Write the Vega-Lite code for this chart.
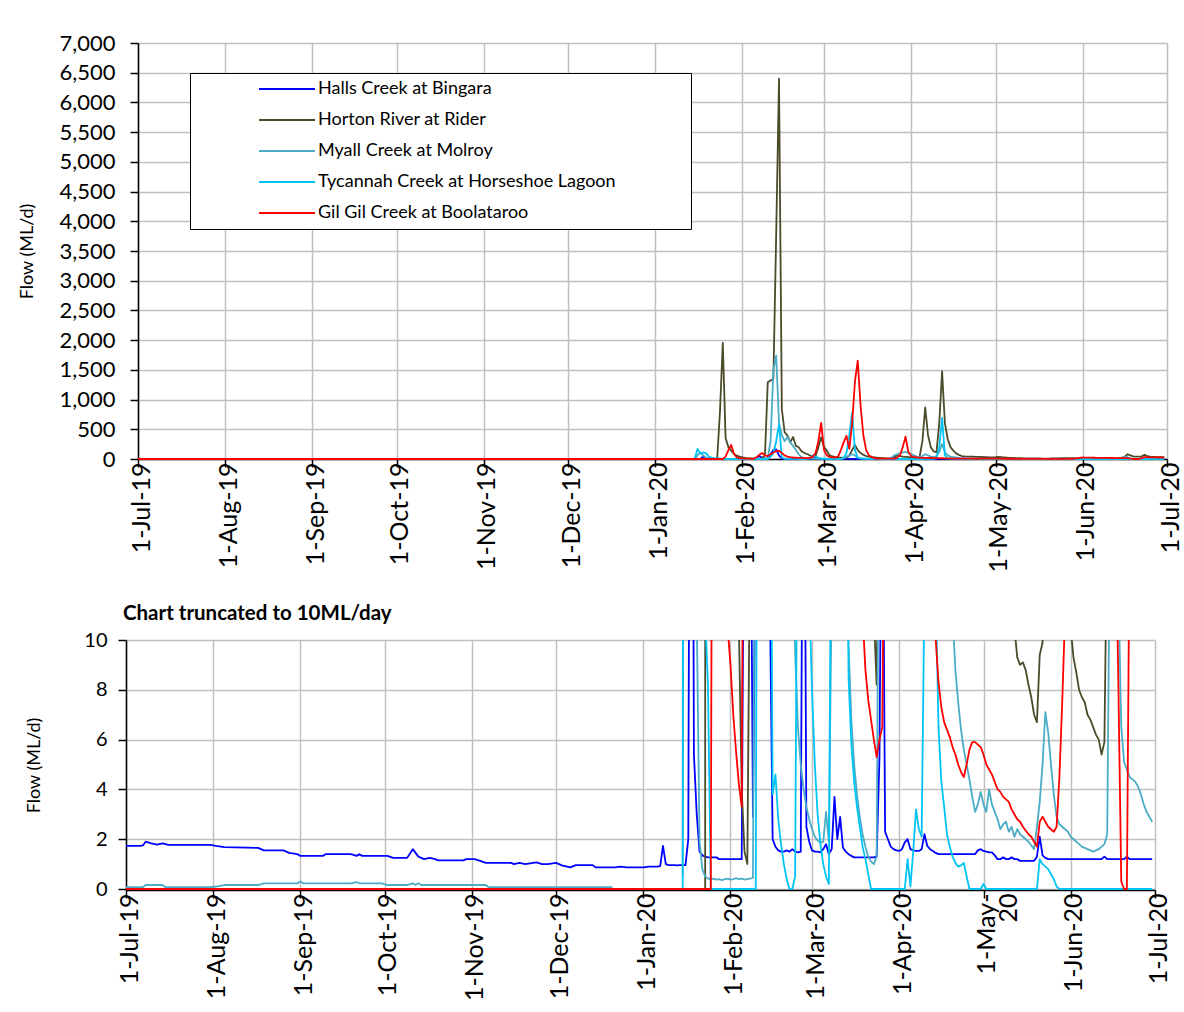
{
"$schema": "https://vega.github.io/schema/vega-lite/v6.json",
"background": "white",
"padding": {"left": 18, "top": 32, "right": 10, "bottom": 6},
"spacing": 31,
"columns": 1,
"resolve": {"legend": {"color": "independent"}},
"datasets": {"flows": [
{"d":"2019-07-01","H":1.73,"R":0,"M":0.07,"T":0,"G":0},
{"d":"2019-07-06","H":1.73,"R":0,"M":0.07,"T":0,"G":0},
{"d":"2019-07-07","H":1.75,"R":0,"M":0.07,"T":0,"G":0},
{"d":"2019-07-08","H":1.9,"R":0,"M":0.16,"T":0,"G":0},
{"d":"2019-07-10","H":1.83,"R":0,"M":0.16,"T":0,"G":0},
{"d":"2019-07-12","H":1.78,"R":0,"M":0.16,"T":0,"G":0},
{"d":"2019-07-14","H":1.83,"R":0,"M":0.16,"T":0,"G":0},
{"d":"2019-07-15","H":1.8,"R":0,"M":0.07,"T":0,"G":0},
{"d":"2019-07-16","H":1.77,"R":0,"M":0.07,"T":0,"G":0},
{"d":"2019-07-31","H":1.77,"R":0,"M":0.07,"T":0,"G":0},
{"d":"2019-08-02","H":1.73,"R":0,"M":0.1,"T":0,"G":0},
{"d":"2019-08-05","H":1.68,"R":0,"M":0.16,"T":0,"G":0},
{"d":"2019-08-13","H":1.66,"R":0,"M":0.16,"T":0,"G":0},
{"d":"2019-08-17","H":1.65,"R":0,"M":0.16,"T":0,"G":0},
{"d":"2019-08-19","H":1.55,"R":0,"M":0.23,"T":0,"G":0},
{"d":"2019-08-26","H":1.55,"R":0,"M":0.23,"T":0,"G":0},
{"d":"2019-08-28","H":1.45,"R":0,"M":0.23,"T":0,"G":0},
{"d":"2019-08-31","H":1.4,"R":0,"M":0.23,"T":0,"G":0},
{"d":"2019-09-01","H":1.33,"R":0,"M":0.3,"T":0,"G":0},
{"d":"2019-09-02","H":1.33,"R":0,"M":0.23,"T":0,"G":0},
{"d":"2019-09-09","H":1.33,"R":0,"M":0.23,"T":0,"G":0},
{"d":"2019-09-10","H":1.4,"R":0,"M":0.23,"T":0,"G":0},
{"d":"2019-09-19","H":1.4,"R":0,"M":0.23,"T":0,"G":0},
{"d":"2019-09-21","H":1.33,"R":0,"M":0.28,"T":0,"G":0},
{"d":"2019-09-22","H":1.4,"R":0,"M":0.23,"T":0,"G":0},
{"d":"2019-09-23","H":1.33,"R":0,"M":0.23,"T":0,"G":0},
{"d":"2019-09-30","H":1.33,"R":0,"M":0.23,"T":0,"G":0},
{"d":"2019-10-02","H":1.33,"R":0,"M":0.16,"T":0,"G":0},
{"d":"2019-10-04","H":1.25,"R":0,"M":0.16,"T":0,"G":0},
{"d":"2019-10-09","H":1.25,"R":0,"M":0.16,"T":0,"G":0},
{"d":"2019-10-11","H":1.6,"R":0,"M":0.23,"T":0,"G":0},
{"d":"2019-10-12","H":1.45,"R":0,"M":0.16,"T":0,"G":0},
{"d":"2019-10-13","H":1.3,"R":0,"M":0.23,"T":0,"G":0},
{"d":"2019-10-14","H":1.25,"R":0,"M":0.16,"T":0,"G":0},
{"d":"2019-10-15","H":1.2,"R":0,"M":0.16,"T":0,"G":0},
{"d":"2019-10-17","H":1.25,"R":0,"M":0.16,"T":0,"G":0},
{"d":"2019-10-19","H":1.2,"R":0,"M":0.16,"T":0,"G":0},
{"d":"2019-10-20","H":1.15,"R":0,"M":0.16,"T":0,"G":0},
{"d":"2019-10-29","H":1.15,"R":0,"M":0.16,"T":0,"G":0},
{"d":"2019-10-30","H":1.2,"R":0,"M":0.16,"T":0,"G":0},
{"d":"2019-11-02","H":1.2,"R":0,"M":0.16,"T":0,"G":0},
{"d":"2019-11-04","H":1.13,"R":0,"M":0.16,"T":0,"G":0},
{"d":"2019-11-06","H":1.05,"R":0,"M":0.16,"T":0,"G":0},
{"d":"2019-11-07","H":1.05,"R":0,"M":0.07,"T":0,"G":0},
{"d":"2019-11-15","H":1.05,"R":0,"M":0.07,"T":0,"G":0},
{"d":"2019-11-16","H":1.0,"R":0,"M":0.07,"T":0,"G":0},
{"d":"2019-11-18","H":1.05,"R":0,"M":0.07,"T":0,"G":0},
{"d":"2019-11-20","H":1.0,"R":0,"M":0.07,"T":0,"G":0},
{"d":"2019-11-24","H":1.07,"R":0,"M":0.07,"T":0,"G":0},
{"d":"2019-11-26","H":1.0,"R":0,"M":0.07,"T":0,"G":0},
{"d":"2019-11-28","H":1.0,"R":0,"M":0.07,"T":0,"G":0},
{"d":"2019-12-01","H":1.05,"R":0,"M":0.07,"T":0,"G":0},
{"d":"2019-12-03","H":0.95,"R":0,"M":0.07,"T":0,"G":0},
{"d":"2019-12-06","H":0.87,"R":0,"M":0.07,"T":0,"G":0},
{"d":"2019-12-08","H":0.96,"R":0,"M":0.07,"T":0,"G":0},
{"d":"2019-12-14","H":0.96,"R":0,"M":0.07,"T":0,"G":0},
{"d":"2019-12-15","H":0.87,"R":0,"M":0.07,"T":0,"G":0},
{"d":"2019-12-21","H":0.87,"R":0,"M":0.07,"T":0,"G":0},
{"d":"2019-12-22","H":0.87,"R":0,"M":null,"T":0,"G":0},
{"d":"2019-12-24","H":0.9,"R":0,"M":null,"T":0,"G":0},
{"d":"2019-12-26","H":0.87,"R":0,"M":null,"T":0,"G":0},
{"d":"2020-01-01","H":0.87,"R":0,"M":null,"T":0,"G":0},
{"d":"2020-01-03","H":0.9,"R":0,"M":null,"T":0,"G":0},
{"d":"2020-01-06","H":0.9,"R":0,"M":null,"T":0,"G":0},
{"d":"2020-01-07","H":0.92,"R":0,"M":null,"T":0,"G":0},
{"d":"2020-01-08","H":1.73,"R":0,"M":null,"T":0,"G":0},
{"d":"2020-01-09","H":1.0,"R":0,"M":null,"T":0,"G":0},
{"d":"2020-01-10","H":0.96,"R":0,"M":null,"T":0,"G":0},
{"d":"2020-01-11","H":0.96,"R":0,"M":null,"T":0,"G":0},
{"d":"2020-01-12","H":0.96,"R":0,"M":null,"T":0,"G":0},
{"d":"2020-01-13","H":0.95,"R":0,"M":null,"T":0,"G":0},
{"d":"2020-01-14","H":0.96,"R":0,"M":null,"T":0,"G":0},
{"d":"2020-01-15","H":0.96,"R":0,"M":0.5,"T":0,"G":0},
{"d":"2020-01-16","H":0.96,"R":0,"M":60,"T":170,"G":0},
{"d":"2020-01-17","H":2.0,"R":0,"M":110,"T":90,"G":0},
{"d":"2020-01-18","H":40,"R":0,"M":60,"T":110,"G":0},
{"d":"2020-01-19","H":5.4,"R":0,"M":25,"T":100,"G":0},
{"d":"2020-01-20","H":3.0,"R":0,"M":11,"T":40,"G":0},
{"d":"2020-01-21","H":1.5,"R":0,"M":1.9,"T":25,"G":0},
{"d":"2020-01-22","H":1.35,"R":0,"M":0.8,"T":15,"G":0},
{"d":"2020-01-23","H":1.3,"R":0,"M":0.5,"T":11,"G":0},
{"d":"2020-01-24","H":1.27,"R":800,"M":0.42,"T":8.2,"G":0},
{"d":"2020-01-25","H":1.27,"R":1955,"M":0.4,"T":0,"G":0},
{"d":"2020-01-26","H":1.27,"R":350,"M":0.42,"T":0,"G":40},
{"d":"2020-01-27","H":1.27,"R":200,"M":0.38,"T":0,"G":150},
{"d":"2020-01-28","H":1.2,"R":140,"M":0.4,"T":0,"G":236},
{"d":"2020-01-29","H":1.2,"R":84,"M":0.36,"T":0,"G":84},
{"d":"2020-01-30","H":1.2,"R":56,"M":0.4,"T":0,"G":28},
{"d":"2020-01-31","H":1.2,"R":40,"M":0.42,"T":0,"G":10.5},
{"d":"2020-02-01","H":1.2,"R":28,"M":0.38,"T":0,"G":9},
{"d":"2020-02-02","H":1.2,"R":20,"M":0.4,"T":0,"G":7},
{"d":"2020-02-03","H":1.2,"R":14,"M":0.44,"T":0,"G":5.5},
{"d":"2020-02-04","H":1.2,"R":10.5,"M":0.4,"T":0,"G":4.2},
{"d":"2020-02-05","H":1.2,"R":4,"M":0.42,"T":0,"G":3.3},
{"d":"2020-02-06","H":20,"R":1.5,"M":0.38,"T":0,"G":30},
{"d":"2020-02-07","H":50,"R":1.0,"M":0.4,"T":0,"G":70},
{"d":"2020-02-08","H":20,"R":15,"M":0.42,"T":0,"G":100},
{"d":"2020-02-09","H":2.9,"R":60,"M":0.45,"T":0,"G":60},
{"d":"2020-02-10","H":15,"R":1290,"M":25,"T":0,"G":50},
{"d":"2020-02-11","H":80,"R":1320,"M":300,"T":40,"G":80},
{"d":"2020-02-12","H":150,"R":1350,"M":1500,"T":100,"G":110},
{"d":"2020-02-13","H":160,"R":3800,"M":1740,"T":300,"G":130},
{"d":"2020-02-14","H":60,"R":6400,"M":600,"T":590,"G":140},
{"d":"2020-02-15","H":12,"R":840,"M":400,"T":25,"G":100},
{"d":"2020-02-16","H":2.0,"R":450,"M":300,"T":3.8,"G":60},
{"d":"2020-02-17","H":1.7,"R":393,"M":370,"T":4.6,"G":40},
{"d":"2020-02-18","H":1.55,"R":280,"M":280,"T":2.8,"G":30},
{"d":"2020-02-19","H":1.5,"R":370,"M":220,"T":1.8,"G":25},
{"d":"2020-02-20","H":1.5,"R":220,"M":150,"T":1.0,"G":22},
{"d":"2020-02-21","H":1.55,"R":197,"M":80,"T":0.4,"G":20},
{"d":"2020-02-22","H":1.5,"R":130,"M":30,"T":0,"G":18},
{"d":"2020-02-23","H":1.6,"R":100,"M":14,"T":0,"G":16},
{"d":"2020-02-24","H":1.5,"R":84,"M":9.5,"T":0.5,"G":15},
{"d":"2020-02-25","H":1.47,"R":60,"M":6.5,"T":20,"G":18},
{"d":"2020-02-26","H":1.5,"R":39,"M":5.0,"T":60,"G":40},
{"d":"2020-02-27","H":25,"R":50,"M":4.0,"T":40,"G":100},
{"d":"2020-02-28","H":2.5,"R":200,"M":3.3,"T":20,"G":300},
{"d":"2020-02-29","H":1.9,"R":365,"M":2.8,"T":12,"G":607},
{"d":"2020-03-01","H":1.55,"R":200,"M":2.4,"T":8,"G":150},
{"d":"2020-03-02","H":1.5,"R":140,"M":2.1,"T":5,"G":60},
{"d":"2020-03-03","H":1.5,"R":60,"M":1.95,"T":3,"G":35},
{"d":"2020-03-04","H":1.47,"R":45,"M":1.85,"T":1.8,"G":28},
{"d":"2020-03-05","H":1.6,"R":30,"M":1.9,"T":1.0,"G":25},
{"d":"2020-03-06","H":1.8,"R":25,"M":3.1,"T":0.5,"G":40},
{"d":"2020-03-07","H":1.4,"R":22,"M":1.9,"T":0.2,"G":150},
{"d":"2020-03-08","H":1.6,"R":20,"M":12,"T":20,"G":280},
{"d":"2020-03-09","H":3.7,"R":22,"M":40,"T":100,"G":390},
{"d":"2020-03-10","H":2.0,"R":60,"M":60,"T":400,"G":170},
{"d":"2020-03-11","H":2.9,"R":150,"M":80,"T":775,"G":600},
{"d":"2020-03-12","H":1.67,"R":236,"M":60,"T":150,"G":1300},
{"d":"2020-03-13","H":1.5,"R":150,"M":20,"T":25,"G":1655},
{"d":"2020-03-14","H":1.4,"R":100,"M":9.8,"T":8.5,"G":900},
{"d":"2020-03-15","H":1.33,"R":70,"M":6.8,"T":5.8,"G":400},
{"d":"2020-03-16","H":1.27,"R":50,"M":5.0,"T":4.3,"G":150},
{"d":"2020-03-17","H":1.27,"R":40,"M":3.8,"T":3.3,"G":60},
{"d":"2020-03-18","H":1.27,"R":30,"M":2.9,"T":2.5,"G":35},
{"d":"2020-03-19","H":1.27,"R":28,"M":2.2,"T":1.7,"G":11},
{"d":"2020-03-20","H":1.27,"R":22,"M":1.7,"T":1.2,"G":8.8},
{"d":"2020-03-21","H":1.27,"R":18,"M":1.3,"T":0.6,"G":7.6},
{"d":"2020-03-22","H":1.27,"R":14,"M":1.1,"T":0,"G":6.8},
{"d":"2020-03-23","H":1.27,"R":11,"M":1.0,"T":0,"G":6.0},
{"d":"2020-03-24","H":1.3,"R":8.2,"M":1.3,"T":0,"G":5.3},
{"d":"2020-03-25","H":5.3,"R":20,"M":20,"T":0,"G":6.0},
{"d":"2020-03-26","H":20,"R":40,"M":60,"T":0,"G":6.5},
{"d":"2020-03-27","H":2.3,"R":60,"M":80,"T":0,"G":20},
{"d":"2020-03-28","H":2.0,"R":50,"M":100,"T":0,"G":60},
{"d":"2020-03-29","H":1.7,"R":40,"M":110,"T":0,"G":200},
{"d":"2020-03-30","H":1.6,"R":35,"M":120,"T":0,"G":376},
{"d":"2020-03-31","H":1.55,"R":30,"M":100,"T":0,"G":120},
{"d":"2020-04-01","H":1.53,"R":25,"M":80,"T":0,"G":50},
{"d":"2020-04-02","H":1.6,"R":22,"M":60,"T":0,"G":30},
{"d":"2020-04-03","H":1.87,"R":20,"M":40,"T":0,"G":25},
{"d":"2020-04-04","H":2.0,"R":34,"M":35,"T":1.2,"G":22},
{"d":"2020-04-05","H":1.6,"R":300,"M":50,"T":0.1,"G":20},
{"d":"2020-04-06","H":1.55,"R":870,"M":80,"T":1.5,"G":19},
{"d":"2020-04-07","H":1.53,"R":400,"M":60,"T":3.2,"G":18},
{"d":"2020-04-08","H":1.53,"R":196,"M":40,"T":2.4,"G":17},
{"d":"2020-04-09","H":1.6,"R":130,"M":35,"T":2.1,"G":16},
{"d":"2020-04-10","H":2.2,"R":112,"M":50,"T":12,"G":15},
{"d":"2020-04-11","H":1.73,"R":600,"M":120,"T":200,"G":14},
{"d":"2020-04-12","H":1.6,"R":1475,"M":250,"T":690,"G":13},
{"d":"2020-04-13","H":1.53,"R":600,"M":120,"T":60,"G":12},
{"d":"2020-04-14","H":1.45,"R":336,"M":60,"T":12,"G":10},
{"d":"2020-04-15","H":1.4,"R":200,"M":40,"T":6.5,"G":8.3},
{"d":"2020-04-16","H":1.4,"R":140,"M":30,"T":4.3,"G":7.3},
{"d":"2020-04-17","H":1.4,"R":95,"M":25,"T":3.3,"G":6.7},
{"d":"2020-04-18","H":1.4,"R":70,"M":20,"T":2.2,"G":6.4},
{"d":"2020-04-19","H":1.4,"R":50,"M":15,"T":1.7,"G":6.1},
{"d":"2020-04-20","H":1.4,"R":42,"M":11,"T":1.3,"G":5.7},
{"d":"2020-04-21","H":1.4,"R":40,"M":8.8,"T":1.05,"G":5.4},
{"d":"2020-04-22","H":1.4,"R":40,"M":7.5,"T":0.9,"G":5.0},
{"d":"2020-04-23","H":1.4,"R":38,"M":6.4,"T":0.95,"G":4.7},
{"d":"2020-04-24","H":1.4,"R":36,"M":5.6,"T":1.05,"G":4.5},
{"d":"2020-04-25","H":1.4,"R":35,"M":5.0,"T":0.5,"G":5.0},
{"d":"2020-04-26","H":1.4,"R":34,"M":4.4,"T":0,"G":5.6},
{"d":"2020-04-27","H":1.4,"R":32,"M":3.7,"T":0,"G":5.9},
{"d":"2020-04-28","H":1.4,"R":30,"M":3.1,"T":0,"G":5.9},
{"d":"2020-04-29","H":1.55,"R":28,"M":3.4,"T":0,"G":5.8},
{"d":"2020-04-30","H":1.6,"R":27,"M":3.9,"T":0,"G":5.7},
{"d":"2020-05-01","H":1.53,"R":30,"M":3.4,"T":0.2,"G":5.4},
{"d":"2020-05-02","H":1.5,"R":35,"M":3.1,"T":0,"G":5.0},
{"d":"2020-05-03","H":1.47,"R":33,"M":4.0,"T":0,"G":4.8},
{"d":"2020-05-04","H":1.47,"R":28,"M":3.4,"T":0,"G":4.6},
{"d":"2020-05-05","H":1.35,"R":24,"M":3.1,"T":0,"G":4.3},
{"d":"2020-05-06","H":1.2,"R":20,"M":2.8,"T":0,"G":4.0},
{"d":"2020-05-07","H":1.2,"R":18,"M":2.4,"T":0,"G":3.9},
{"d":"2020-05-08","H":1.27,"R":16,"M":2.6,"T":0,"G":3.7},
{"d":"2020-05-09","H":1.2,"R":14,"M":2.7,"T":0,"G":3.6},
{"d":"2020-05-10","H":1.2,"R":13,"M":2.3,"T":0,"G":3.5},
{"d":"2020-05-11","H":1.27,"R":12,"M":2.5,"T":0,"G":3.2},
{"d":"2020-05-12","H":1.2,"R":10.5,"M":2.1,"T":0,"G":3.0},
{"d":"2020-05-13","H":1.2,"R":9.3,"M":2.4,"T":0,"G":2.8},
{"d":"2020-05-14","H":1.13,"R":9.0,"M":2.2,"T":0,"G":2.7},
{"d":"2020-05-15","H":1.13,"R":9.1,"M":2.1,"T":0,"G":2.5},
{"d":"2020-05-16","H":1.13,"R":8.8,"M":2.0,"T":0,"G":2.35},
{"d":"2020-05-17","H":1.13,"R":8.2,"M":1.9,"T":0,"G":2.2},
{"d":"2020-05-18","H":1.13,"R":7.7,"M":1.75,"T":0,"G":2.1},
{"d":"2020-05-19","H":1.13,"R":7.0,"M":1.6,"T":0,"G":1.9},
{"d":"2020-05-20","H":1.3,"R":6.7,"M":2.5,"T":0,"G":1.7},
{"d":"2020-05-21","H":2.1,"R":9.4,"M":3.5,"T":1.2,"G":2.7},
{"d":"2020-05-22","H":1.35,"R":9.9,"M":5.0,"T":1.0,"G":2.9},
{"d":"2020-05-23","H":1.25,"R":12,"M":7.1,"T":0.9,"G":2.7},
{"d":"2020-05-24","H":1.2,"R":15,"M":6.3,"T":0.8,"G":2.5},
{"d":"2020-05-25","H":1.2,"R":16,"M":5.0,"T":0.6,"G":2.4},
{"d":"2020-05-26","H":1.2,"R":16,"M":3.8,"T":0.4,"G":2.3},
{"d":"2020-05-27","H":1.2,"R":15,"M":2.9,"T":0.1,"G":2.5},
{"d":"2020-05-28","H":1.2,"R":14,"M":2.6,"T":0,"G":4.5},
{"d":"2020-05-29","H":1.2,"R":13,"M":2.5,"T":0,"G":7.5},
{"d":"2020-05-30","H":1.2,"R":12,"M":2.4,"T":0,"G":11},
{"d":"2020-05-31","H":1.2,"R":11,"M":2.3,"T":0,"G":20},
{"d":"2020-06-01","H":1.2,"R":10.5,"M":2.1,"T":0,"G":25},
{"d":"2020-06-02","H":1.2,"R":9.3,"M":2.0,"T":0,"G":24},
{"d":"2020-06-03","H":1.2,"R":8.7,"M":1.9,"T":0,"G":23},
{"d":"2020-06-04","H":1.2,"R":8.0,"M":1.8,"T":0,"G":22},
{"d":"2020-06-05","H":1.2,"R":7.7,"M":1.7,"T":0,"G":21},
{"d":"2020-06-06","H":1.2,"R":7.5,"M":1.65,"T":0,"G":20},
{"d":"2020-06-07","H":1.2,"R":7.0,"M":1.6,"T":0,"G":20},
{"d":"2020-06-08","H":1.2,"R":6.8,"M":1.55,"T":0,"G":19},
{"d":"2020-06-09","H":1.2,"R":6.5,"M":1.5,"T":0,"G":18},
{"d":"2020-06-10","H":1.2,"R":6.2,"M":1.55,"T":0,"G":18},
{"d":"2020-06-11","H":1.2,"R":6.0,"M":1.6,"T":0,"G":17},
{"d":"2020-06-12","H":1.2,"R":5.4,"M":1.7,"T":0,"G":17},
{"d":"2020-06-13","H":1.3,"R":5.9,"M":1.8,"T":0,"G":16},
{"d":"2020-06-14","H":1.2,"R":15,"M":2.2,"T":0,"G":16},
{"d":"2020-06-15","H":1.2,"R":25,"M":15,"T":0,"G":15},
{"d":"2020-06-16","H":1.2,"R":40,"M":40,"T":0,"G":15},
{"d":"2020-06-17","H":1.2,"R":80,"M":30,"T":0,"G":15},
{"d":"2020-06-18","H":1.2,"R":60,"M":12,"T":0,"G":8},
{"d":"2020-06-19","H":1.2,"R":45,"M":6.5,"T":0,"G":0.3},
{"d":"2020-06-20","H":1.2,"R":40,"M":5.1,"T":0,"G":0},
{"d":"2020-06-21","H":1.3,"R":40,"M":4.8,"T":0,"G":0},
{"d":"2020-06-22","H":1.2,"R":45,"M":4.5,"T":0,"G":15},
{"d":"2020-06-23","H":1.2,"R":70,"M":4.4,"T":0,"G":30},
{"d":"2020-06-24","H":1.2,"R":50,"M":4.3,"T":0,"G":30},
{"d":"2020-06-25","H":1.2,"R":40,"M":4.1,"T":0,"G":28},
{"d":"2020-06-26","H":1.2,"R":35,"M":3.8,"T":0,"G":28},
{"d":"2020-06-27","H":1.2,"R":30,"M":3.4,"T":0,"G":26},
{"d":"2020-06-28","H":1.2,"R":30,"M":3.1,"T":0,"G":25},
{"d":"2020-06-29","H":1.2,"R":30,"M":2.9,"T":0,"G":25},
{"d":"2020-06-30","H":1.2,"R":30,"M":2.7,"T":0,"G":25}
]},
"config": {
  "font": "Lato",
  "view": {"stroke": null},
  "axis": {"labelFont": "Lato", "titleFont": "Lato", "labelColor": "#000000", "titleColor": "#000000", "gridColor": "#c0c0c0", "gridWidth": 1.5, "domainColor": "#000000", "domainWidth": 1.5, "tickColor": "#000000", "tickWidth": 1.5, "tickSize": 8, "titleFontWeight": "normal"},
  "line": {"strokeWidth": 1.8, "strokeJoin": "round"}
},
"concat": [
{
  "width": 1041, "height": 416,
  "data": {"name": "flows"},
  "transform": [{"fold": ["H", "R", "M", "T", "G"], "as": ["s", "v"]}],
  "mark": {"type": "line", "invalid": "break-paths-show-domains"},
  "encoding": {
    "x": {"field": "d", "type": "temporal",
      "scale": {"type": "utc", "rangeMin": 12, "domain": [{"year": 2019, "month": 7, "date": 1, "utc": true}, {"year": 2020, "month": 7, "date": 1, "utc": true}]},
      "axis": {"title": null, "labelExpr": "utcFormat(datum.value, '%-d-%b-%y')", "labelAngle": -90, "labelFontSize": 25, "labelPadding": -5, "labelOffset": 3, "labelFlush": false, "labelOverlap": false, "labelBound": false, "grid": true,
        "values": [{"year": 2019, "month": 7, "date": 1, "utc": true}, {"year": 2019, "month": 8, "date": 1, "utc": true}, {"year": 2019, "month": 9, "date": 1, "utc": true}, {"year": 2019, "month": 10, "date": 1, "utc": true}, {"year": 2019, "month": 11, "date": 1, "utc": true}, {"year": 2019, "month": 12, "date": 1, "utc": true}, {"year": 2020, "month": 1, "date": 1, "utc": true}, {"year": 2020, "month": 2, "date": 1, "utc": true}, {"year": 2020, "month": 3, "date": 1, "utc": true}, {"year": 2020, "month": 4, "date": 1, "utc": true}, {"year": 2020, "month": 5, "date": 1, "utc": true}, {"year": 2020, "month": 6, "date": 1, "utc": true}, {"year": 2020, "month": 7, "date": 1, "utc": true}]}},
    "y": {"field": "v", "type": "quantitative",
      "scale": {"domain": [0, 7000], "nice": false},
      "axis": {"title": "Flow (ML/d)", "titleFontSize": 18, "titlePadding": 22, "offset": -12, "labelExpr": "format(datum.value, ',')", "labelFontSize": 22, "labelPadding": 15, "grid": true, "values": [0, 500, 1000, 1500, 2000, 2500, 3000, 3500, 4000, 4500, 5000, 5500, 6000, 6500, 7000]}},
    "color": {"field": "s", "type": "nominal",
      "scale": {"domain": ["H", "R", "M", "T", "G"], "range": ["#0000ff", "#4b4b2a", "#4bacc6", "#00c4f5", "#ff0000"]},
      "legend": {"orient": "none", "legendX": 64, "legendY": 30, "title": ".", "titleOrient": "right", "titleColor": "#ffffff", "titleFontSize": 8, "titlePadding": 66, "symbolType": "M-4,0H4", "symbolSize": 196, "symbolStrokeWidth": 2, "symbolOffset": 81, "labelOffset": 22, "labelFontSize": 18, "labelFont": "Lato", "labelColor": "#000000", "labelLimit": 700, "rowPadding": 13, "padding": 7, "strokeColor": "#000000", "fillColor": "#ffffff",
        "labelExpr": "datum.value == 'H' ? 'Halls Creek at Bingara' : datum.value == 'R' ? 'Horton River at Rider' : datum.value == 'M' ? 'Myall Creek at Molroy' : datum.value == 'T' ? 'Tycannah Creek at Horseshoe Lagoon' : 'Gil Gil Creek at Boolataroo'"}}
  }
},
{
  "width": 1029, "height": 250,
  "title": {"text": "Chart truncated to 10ML/day", "anchor": "start", "frame": "group", "fontSize": 20.5, "fontWeight": "bold", "font": "Lato", "color": "#000000", "offset": 6, "dx": -3},
  "data": {"name": "flows"},
  "transform": [{"fold": ["H", "R", "M", "T", "G"], "as": ["s", "v"]}],
  "mark": {"type": "line", "clip": true, "invalid": "break-paths-show-domains"},
  "encoding": {
    "x": {"field": "d", "type": "temporal",
      "scale": {"type": "utc", "domain": [{"year": 2019, "month": 7, "date": 1, "utc": true}, {"year": 2020, "month": 7, "date": 1, "utc": true}]},
      "axis": {"title": null, "labelAngle": -90, "labelFontSize": 25, "labelPadding": -5, "labelOffset": 3, "labelFlush": false, "labelOverlap": false, "labelBound": false, "grid": true, "labelLineHeight": 22,
        "labelExpr": "utcFormat(datum.value, '%m') == '05' ? ['1-May-', '20'] : utcFormat(datum.value, '%-d-%b-%y')",
        "values": [{"year": 2019, "month": 7, "date": 1, "utc": true}, {"year": 2019, "month": 8, "date": 1, "utc": true}, {"year": 2019, "month": 9, "date": 1, "utc": true}, {"year": 2019, "month": 10, "date": 1, "utc": true}, {"year": 2019, "month": 11, "date": 1, "utc": true}, {"year": 2019, "month": 12, "date": 1, "utc": true}, {"year": 2020, "month": 1, "date": 1, "utc": true}, {"year": 2020, "month": 2, "date": 1, "utc": true}, {"year": 2020, "month": 3, "date": 1, "utc": true}, {"year": 2020, "month": 4, "date": 1, "utc": true}, {"year": 2020, "month": 5, "date": 1, "utc": true}, {"year": 2020, "month": 6, "date": 1, "utc": true}, {"year": 2020, "month": 7, "date": 1, "utc": true}]}},
    "y": {"field": "v", "type": "quantitative",
      "scale": {"domain": [-0.04, 10], "nice": false, "zero": false},
      "axis": {"title": "Flow (ML/d)", "titleFontSize": 18, "titlePadding": 40, "labelExpr": "format(datum.value, ',')", "labelFontSize": 20, "labelPadding": 11, "grid": true, "values": [0, 2, 4, 6, 8, 10]}},
    "color": {"field": "s", "type": "nominal",
      "scale": {"domain": ["H", "R", "M", "T", "G"], "range": ["#0000ff", "#4b4b2a", "#4bacc6", "#00c4f5", "#ff0000"]},
      "legend": null}
  }
}
]
}
